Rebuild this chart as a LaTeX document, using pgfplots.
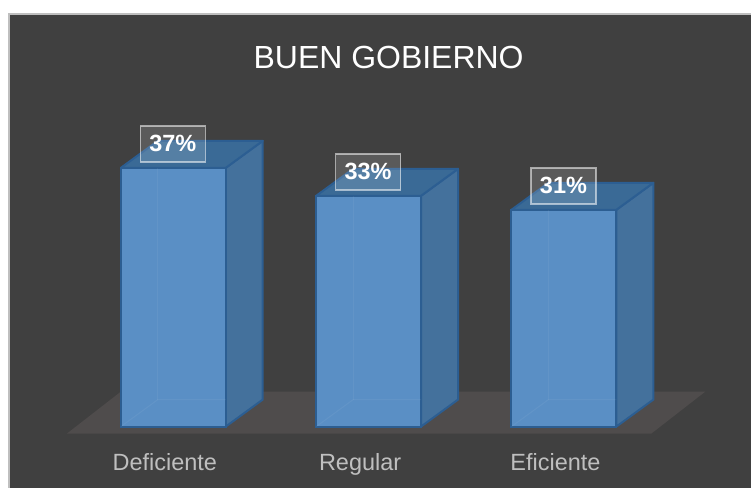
\documentclass[border=0pt]{standalone}
\usepackage{fontspec}
\setmainfont{Liberation Sans}
\usepackage{pgfplots}
\pgfplotsset{compat=1.18}
\definecolor{panel}{HTML}{404040}
\definecolor{floorc}{HTML}{4F4C4C}
\definecolor{frontc}{HTML}{5A8FC5}
\definecolor{topc}{HTML}{3A6A96}
\definecolor{sidec}{HTML}{44719C}
\definecolor{edgec}{HTML}{2C5E92}
\definecolor{labc}{HTML}{BFBFBF}
\begin{document}
\begin{tikzpicture}
\fill[white] (0,0) rectangle (752pt,488pt);
\fill[panel] (9pt,0) rectangle (752pt,474pt);
\draw[color=labc, line width=1.5pt] (9pt,0) -- (9pt,474pt) -- (752pt,474pt);
\begin{axis}[
  at={(0,0)}, anchor=south west,
  scale only axis, width=752pt, height=488pt,
  xmin=-0.88747, xmax=2.95908, ymin=-8.714, ymax=61,
  axis line style={draw=none}, tick style={draw=none},
  clip=false,
  ytick=\empty,
  xtick={0,1,2},
  xticklabels={Deficiente,Regular,Eficiente},
  xticklabel style={anchor=center, xshift=-8.5pt, yshift=23.5pt,
    text height=17pt, text depth=5pt,
    font=\fontsize{23.5}{26}\selectfont, text=labc},
  title={BUEN GOBIERNO},
  title style={at={(rel axis cs:0.5173,0.8695)}, anchor=center,
    font=\fontsize{32}{36}\selectfont, text=white},
]
% floor
\addplot[draw=none, fill=floorc] coordinates {(-0.5448,-1) (2.4476,-1) (2.7238,5) (-0.2685,5)} -- cycle;
% side faces
\addplot[draw=edgec, line width=2pt, fill=sidec, line join=round] coordinates {(0.2685,0) (0.4578,3.857) (0.4578,40.857) (0.2685,37)} -- cycle;
\addplot[draw=edgec, line width=2pt, fill=sidec, line join=round] coordinates {(1.2685,0) (1.4578,3.857) (1.4578,36.857) (1.2685,33)} -- cycle;
\addplot[draw=edgec, line width=2pt, fill=sidec, line join=round] coordinates {(2.2685,0) (2.4578,3.857) (2.4578,34.857) (2.2685,31)} -- cycle;
% top faces
\addplot[draw=edgec, line width=2pt, fill=topc, line join=round] coordinates {(-0.2685,37) (0.2685,37) (0.4578,40.857) (-0.0792,40.857)} -- cycle;
\addplot[draw=edgec, line width=2pt, fill=topc, line join=round] coordinates {(0.7315,33) (1.2685,33) (1.4578,36.857) (0.9208,36.857)} -- cycle;
\addplot[draw=edgec, line width=2pt, fill=topc, line join=round] coordinates {(1.7315,31) (2.2685,31) (2.4578,34.857) (1.9208,34.857)} -- cycle;
% front faces with labels
\addplot[ybar, bar width=105pt, bar shift=0pt, draw=edgec, line width=2pt, fill=frontc,
  nodes near coords={\pgfmathprintnumber[assume math mode=true]{\pgfplotspointmeta}\%},
  every node near coord/.append style={anchor=center, yshift=24pt, xshift=-0.5pt,
    minimum width=65pt, minimum height=36pt, inner sep=0pt,
    fill=white, fill opacity=0.14, draw=white, draw opacity=0.55, line width=1.5pt,
    text opacity=1, text=white, font=\fontsize{23.5}{26}\selectfont\bfseries},
] coordinates {(0,37) (1,33) (2,31)};
% faint back edges seen through the front
\addplot[draw=white, opacity=0.05, line width=1pt] coordinates {(-0.2685,0) (-0.0792,3.857) (0.2685,3.857)};
\addplot[draw=white, opacity=0.05, line width=1pt] coordinates {(-0.0792,3.857) (-0.0792,37)};
\addplot[draw=white, opacity=0.05, line width=1pt] coordinates {(0.7315,0) (0.9208,3.857) (1.2685,3.857)};
\addplot[draw=white, opacity=0.05, line width=1pt] coordinates {(0.9208,3.857) (0.9208,33)};
\addplot[draw=white, opacity=0.05, line width=1pt] coordinates {(1.7315,0) (1.9208,3.857) (2.2685,3.857)};
\addplot[draw=white, opacity=0.05, line width=1pt] coordinates {(1.9208,3.857) (1.9208,31)};
\end{axis}
\end{tikzpicture}
\end{document}
